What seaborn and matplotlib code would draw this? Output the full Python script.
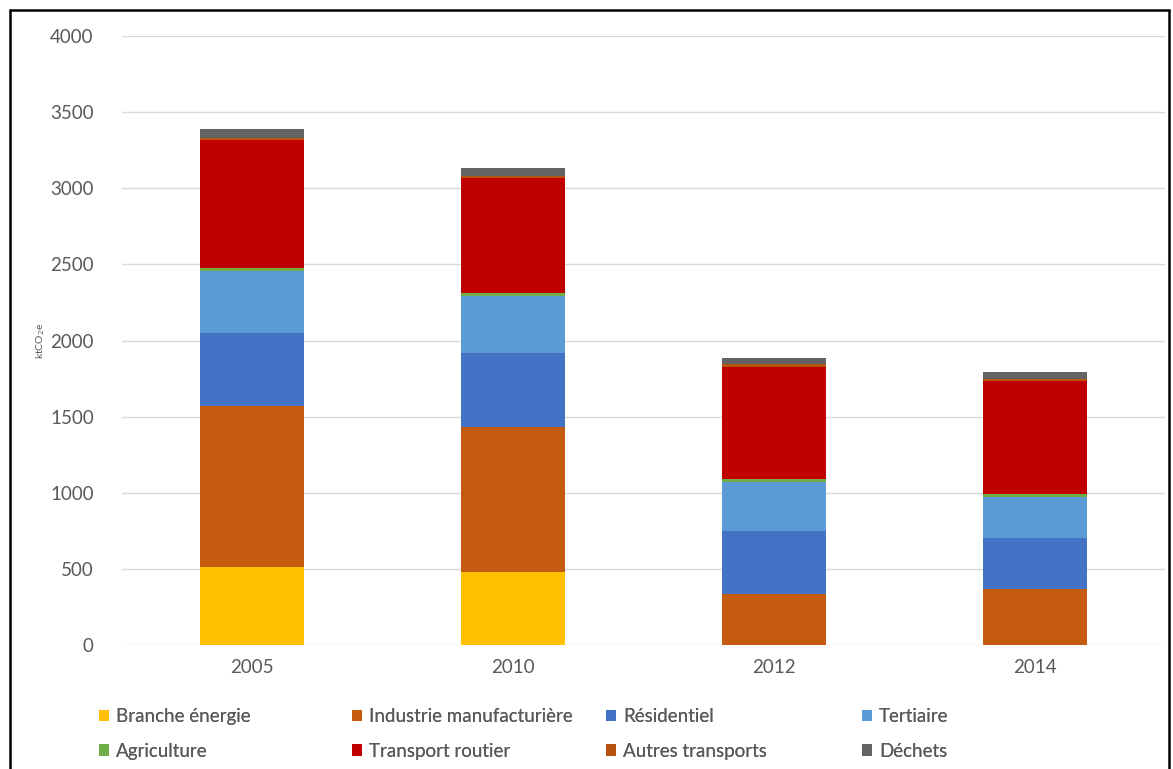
import matplotlib
matplotlib.use("Agg")
import matplotlib.pyplot as plt
from matplotlib.patches import Patch
from matplotlib.lines import Line2D
import numpy as np
import pandas as pd
import seaborn as sns

# Emissions by sector (ktCO2e)
years = ["2005", "2010", "2012", "2014"]
sectors = ["Branche énergie", "Industrie manufacturière", "Résidentiel", "Tertiaire",
           "Agriculture", "Transport routier", "Autres transports", "Déchets"]
branche_energie = [515, 481, 0, 0]
industrie = [1055, 953, 333, 366]
residentiel = [480, 484, 418, 335]
tertiaire = [407, 375, 320, 271]
agriculture = [20, 18, 18, 21]
transport_routier = [841, 755, 735, 738]
autres_transports = [12, 15, 22, 18]
dechets = [58, 50, 38, 44]

colors = ["#FFC000", "#C55A11", "#4472C4", "#5B9BD5",
          "#70AD47", "#C00000", "#B8530F", "#636363"]

series = [branche_energie, industrie, residentiel, tertiaire,
          agriculture, transport_routier, autres_transports, dechets]

sns.set_theme(style="white")
plt.rcParams["font.family"] = ["Lato", "DejaVu Sans"]

fig = plt.figure(figsize=(11.73, 7.69), dpi=100)
ax = fig.add_axes([0.1036, 0.1612, 0.89, 0.7920])

# Stacked bars: draw cumulative totals from the top layer down
cum = np.cumsum(np.array(series), axis=0)
for i in range(len(sectors) - 1, -1, -1):
    df = pd.DataFrame({"year": years, "value": cum[i]})
    sns.barplot(data=df, x="year", y="value", color=colors[i], width=0.4,
                saturation=1, ax=ax, zorder=2, linewidth=0, edgecolor="none")

ax.set_ylim(0, 4000)
ax.set_yticks(np.arange(0, 4001, 500))
ax.set_xlim(-0.5, 3.5)
ax.yaxis.grid(True, color="#D9D9D9", linewidth=1, zorder=0)
ax.set_axisbelow(True)
for s in ax.spines.values():
    s.set_visible(False)
ax.tick_params(axis="both", length=0, labelsize=13.5, colors="#595959")
ax.tick_params(axis="y", pad=20)
ax.tick_params(axis="x", pad=10)
ax.set_xlabel("")
ax.set_ylabel("ktCO$_2$e", fontsize=7.5, color="#595959", labelpad=2)

# Legend: four columns, two rows
cols = [(0, 4), (1, 5), (2, 6), (3, 7)]
xpos = [99, 352, 606, 862]
for (a, b), x in zip(cols, xpos):
    handles = [Patch(facecolor=colors[a], edgecolor="none"),
               Patch(facecolor=colors[b], edgecolor="none")]
    leg = fig.legend(handles, [sectors[a], sectors[b]], loc="center left",
                     bbox_to_anchor=(x / 1173, 1 - 734 / 769), frameon=False,
                     fontsize=13.5, handlelength=0.55, handleheight=0.55,
                     handletextpad=0.35, labelspacing=0.92, borderpad=0,
                     borderaxespad=0)
    for t in leg.get_texts():
        t.set_color("#595959")
    fig.add_artist(leg)

# Outer frame
W, H = 1173, 769
for xs, ys in [([10, 10], [0, 759]), ([10, 1169], [759, 759]), ([1169, 1169], [0, 759])]:
    fig.add_artist(Line2D([x / W for x in xs], [y / H for y in ys],
                          color="black", linewidth=1.8, transform=fig.transFigure))

fig.savefig("out.png", dpi=100)
